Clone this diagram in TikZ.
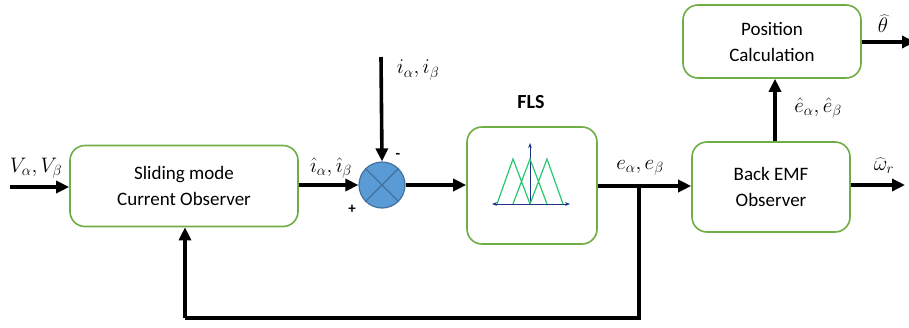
\RequirePackage{fix-cm}
\documentclass[tikz,border=0pt]{standalone}
\usepackage{fontspec}
\setmainfont{Carlito}
\usetikzlibrary{arrows.meta}
\definecolor{boxgreen}{RGB}{112,173,71}
\definecolor{sumblue}{RGB}{91,155,213}
\definecolor{sumedge}{RGB}{65,113,156}
\definecolor{fuzzgreen}{RGB}{40,200,110}
\definecolor{axisblue}{RGB}{30,50,130}
\begin{document}
\begin{tikzpicture}[x=1pt,y=-1pt,
  block/.style={draw=boxgreen,line width=1.6pt,rounded corners=15pt,fill=white,
    align=center,inner sep=0pt,font=\fontsize{19}{26}\selectfont},
  sig/.style={line width=3.6pt,-{Triangle[length=13pt,width=12pt]}},
  wire/.style={line width=3.6pt},
  lbl/.style={font=\fontsize{21}{22}\selectfont,inner sep=0pt}]
\useasboundingbox (0,0) rectangle (909,327);

% blocks
\node[block,minimum width=228pt,minimum height=81pt] (smo) at (184,186)
  {Sliding mode\\Current Observer};
\node[circle,draw=sumedge,line width=1.2pt,fill=sumblue,minimum size=46pt,inner sep=0pt] (sum) at (382,185) {};
\draw[sumedge,line width=1.2pt] (sum.north east) -- (sum.south west)
  (sum.north west) -- (sum.south east);
\node[block,minimum width=130pt,minimum height=117pt] (fls) at (532,185.5) {};
\node[block,minimum width=158pt,minimum height=90pt] (bemf) at (771,187)
  {Back EMF\\Observer};
\node[block,minimum width=178pt,minimum height=73pt] (pos) at (772,41.5)
  {Position\\Calculation};

% fuzzy membership functions inside the FLS block
\draw[axisblue,line width=1pt,{Stealth[length=5pt]}-{Stealth[length=5pt]}] (492,204) -- (570,204);
\draw[axisblue,line width=1pt,-{Stealth[length=5pt]}] (530,204) -- (530,143);
\draw[fuzzgreen,line width=1.2pt]
  (497,204) -- (513,159) -- (530,204)
  (513,204) -- (530,159) -- (547,204)
  (530,204) -- (547,159) -- (563,204);

% free ends of the signal lines
\coordinate (vin) at (10,187);
\coordinate (iin) at (381,57);
\coordinate (wout) at (905,185);
\coordinate (thout) at (915,42);
\coordinate (tap) at (639,186);
\coordinate (bl) at (185,318);
\coordinate (br) at (639,318);

% connectors
\draw[sig] (vin) -- (smo.west |- vin);
\draw[sig] (smo.east |- sum.west) -- (sum.west);
\draw[sig] (iin) -- (sum.north);
\draw[sig] (sum.east) -- (fls.west |- sum.east);
\draw[sig] (fls.east |- tap) -- (bemf.west |- tap);
\draw[wire] (tap) -- (br) -- (bl);
\draw[sig] (bl) -- (smo.south -| bl);
\draw[sig] (bemf.east |- wout) -- (wout);
\draw[sig] (bemf.north -| 775,0) -- (pos.south -| 775,0);
\draw[sig] (pos.east |- thout) -- (thout);

% labels
\node[font=\bfseries\fontsize{20}{22}\selectfont] (flsl) at (531,102) {FLS};
\node[lbl] (lv) at (36,168) {$V_\alpha,V_\beta$};
\node[lbl] (lih) at (331,168) {$\hat{\imath}_\alpha,\hat{\imath}_\beta$};
\node[lbl] (li) at (418,70) {$i_\alpha,i_\beta$};
\node[font=\bfseries\fontsize{15}{16}\selectfont,inner sep=0pt] (lp) at (352,209) {+};
\node[font=\bfseries\fontsize{15}{16}\selectfont,inner sep=0pt] (lm) at (398,156) {-};
\node[lbl] (le) at (640,168) {$e_\alpha,e_\beta$};
\node[lbl] (lw) at (884,166) {$\widehat{\omega}_r$};
\node[lbl] (leh) at (818,108) {$\hat e_\alpha,\hat e_\beta$};
\node[lbl] (lth) at (883,24) {$\widehat{\theta}$};
\end{tikzpicture}
\end{document}
